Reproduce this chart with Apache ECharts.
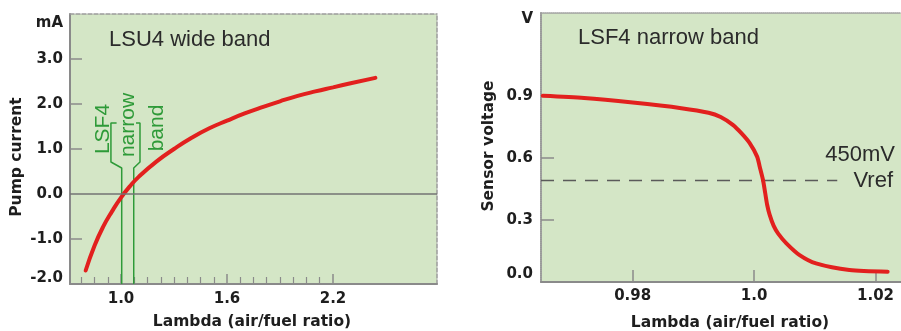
<!DOCTYPE html>
<html>
<head>
<meta charset="utf-8">
<script src="https://cdn.jsdelivr.net/npm/echarts@6/dist/echarts.min.js"></script>
<style>
  html, body { margin: 0; padding: 0; background: #fff; }
  #main { width: 901px; height: 331px; }
</style>
</head>
<body>
<div id="main"></div>
<script>
// LSU4 wide band: pump current (mA) vs lambda
const lsuLambda = [0.80, 0.85, 0.90, 0.95, 1.00, 1.05, 1.10, 1.20, 1.30, 1.40, 1.50, 1.60, 1.70, 1.80, 1.90, 2.00, 2.10, 2.20, 2.30, 2.44];
const lsuCurrent = [-1.70, -1.15, -0.72, -0.38, -0.08, 0.17, 0.38, 0.72, 1.00, 1.25, 1.46, 1.63, 1.79, 1.93, 2.06, 2.18, 2.28, 2.37, 2.46, 2.58];
const lsuXLabels = [1.0, 1.6, 2.2];
const lsuXMinorTicks = [0.775, 0.85, 0.925, 1.075, 1.15, 1.225, 1.3, 1.375, 1.45, 1.525, 1.675, 1.75, 1.825, 1.9, 1.975, 2.05, 2.125];
const lsuYLabels = [-2, -1, 0, 1, 2, 3];
const lsuYTicks = [-1, 1, 2, 3];

// narrow band window drawn on the wide band chart (bracket)
const bracketLeft = [[0.975, 1.578], [0.943, 1.578], [0.943, 0.711], [1.004, 0.578], [1.004, -2]];
const bracketRight = [[1.085, 1.578], [1.1075, 1.578], [1.1075, 0.711], [1.072, 0.578], [1.072, -2]];

// LSF4 narrow band: sensor voltage (V) vs lambda
const lsfLambda = [0.9652, 0.972, 0.980, 0.988, 0.9925, 0.9945, 0.9965, 0.9979, 0.9993, 1.0005, 1.00093, 1.00147, 1.00183, 1.00216, 1.00257, 1.00323, 1.00397, 1.00532, 1.0075, 1.0102, 1.0157, 1.022];
const lsfVoltage = [0.90, 0.889, 0.867, 0.840, 0.818, 0.797, 0.759, 0.719, 0.670, 0.606, 0.557, 0.493, 0.430, 0.372, 0.324, 0.271, 0.234, 0.187, 0.130, 0.090, 0.058, 0.050];
const lsfXLabels = [0.98, 1.0, 1.02];
const lsfXLabelText = ['0.98', '1.0', '1.02'];
const lsfYLabels = [0, 0.3, 0.6, 0.9];
const lsfYTicks = [0.3, 0.6, 0.9];
const vrefLine = [[0.9649, 0.49], [1.0137, 0.49]];

const BG = '#d4e6c6';
const AXIS = '#8a8a8a';
const RED = '#e2201e';
const GREEN = '#2e9a38';
const LABEL_FONT = 'DejaVu Sans';
const TITLE_FONT = 'Liberation Sans';

const zip = (xs, ys) => xs.map((x, i) => [x, ys[i]]);

const tickLabel = {
  color: '#1e1e1e',
  fontFamily: LABEL_FONT,
  fontWeight: 'bold',
  fontSize: 15,
};

let chart = echarts.init(document.getElementById('main'));

chart.setOption({
  animation: false,
  grid: [
    { left: 70, top: 14, width: 367, height: 270, show: true, backgroundColor: BG, borderWidth: 0 },
    { left: 541, top: 13, width: 360, height: 269, show: true, backgroundColor: BG, borderWidth: 0 },
  ],
  xAxis: [
    // wide band, main
    {
      type: 'value', gridIndex: 0, position: 'bottom', min: 0.7113, max: 2.7887,
      axisLine: { onZero: false, lineStyle: { color: AXIS, width: 2 } },
      axisTick: { inside: true, length: 10, customValues: lsuXLabels, lineStyle: { color: AXIS, width: 1.5 } },
      axisLabel: { ...tickLabel, margin: 8, customValues: lsuXLabels, formatter: (v) => v.toFixed(1) },
      splitLine: { show: false },
    },
    // wide band, minor ticks
    {
      type: 'value', gridIndex: 0, position: 'bottom', min: 0.7113, max: 2.7887,
      axisLine: { show: false, onZero: false },
      axisTick: { inside: true, length: 7, customValues: lsuXMinorTicks, lineStyle: { color: AXIS, width: 1.2 } },
      axisLabel: { show: false },
      splitLine: { show: false },
    },
    // wide band, top border
    {
      type: 'value', gridIndex: 0, position: 'top', min: 0.7113, max: 2.7887,
      axisLine: { onZero: false, lineStyle: { color: '#9a9a9a', width: 1.5, type: [4, 2] } },
      axisTick: { show: false }, axisLabel: { show: false }, splitLine: { show: false },
    },
    // narrow band, main
    {
      type: 'value', gridIndex: 1, position: 'bottom', min: 0.9649, max: 1.0242,
      axisLine: { onZero: false, lineStyle: { color: AXIS, width: 2 } },
      axisTick: { inside: true, length: 12, customValues: lsfXLabels, lineStyle: { color: AXIS, width: 1.5 } },
      axisLabel: {
        ...tickLabel, margin: 7, customValues: lsfXLabels,
        formatter: (v) => {
          let idx = 0;
          lsfXLabels.forEach((x, i) => { if (Math.abs(x - v) < Math.abs(lsfXLabels[idx] - v)) idx = i; });
          return lsfXLabelText[idx];
        },
      },
      splitLine: { show: false },
    },
    // narrow band, top border
    {
      type: 'value', gridIndex: 1, position: 'top', min: 0.9649, max: 1.0242,
      axisLine: { onZero: false, lineStyle: { color: '#a0a0a0', width: 1.5, type: [1, 1] } },
      axisTick: { show: false }, axisLabel: { show: false }, splitLine: { show: false },
    },
  ],
  yAxis: [
    {
      type: 'value', gridIndex: 0, position: 'left', min: -2, max: 4,
      axisLine: { onZero: false, lineStyle: { color: AXIS, width: 2 } },
      axisTick: { inside: true, length: 12, customValues: lsuYTicks, lineStyle: { color: AXIS, width: 1.5 } },
      axisLabel: {
        ...tickLabel, margin: 7, customValues: lsuYLabels,
        formatter: (v) => (v === -2 ? '{low|-2.0}' : v.toFixed(1)),
        rich: { low: { ...tickLabel, padding: [0, 0, 12, 0] } },
      },
      splitLine: { show: false },
    },
    // wide band, right border
    {
      type: 'value', gridIndex: 0, position: 'right', min: -2, max: 4,
      axisLine: { onZero: false, lineStyle: { color: '#9a9a9a', width: 1.5, type: [4, 2] } },
      axisTick: { show: false }, axisLabel: { show: false }, splitLine: { show: false },
    },
    {
      type: 'value', gridIndex: 1, position: 'left', min: 0, max: 1.3,
      axisLine: { onZero: false, lineStyle: { color: '#9a9a9a', width: 2, type: [1, 1] } },
      axisTick: { inside: true, length: 13, customValues: lsfYTicks, lineStyle: { color: AXIS, width: 1.5 } },
      axisLabel: {
        ...tickLabel, margin: 8, customValues: lsfYLabels,
        formatter: (v) => (v === 0 ? '{low|0.0}' : v.toFixed(1)),
        rich: { low: { ...tickLabel, padding: [0, 0, 16, 0] } },
      },
      splitLine: { show: false },
    },
  ],
  series: [
    // zero line of the wide band chart
    {
      type: 'line', xAxisIndex: 0, yAxisIndex: 0, data: [], z: 1,
      markLine: {
        silent: true, symbol: 'none', label: { show: false },
        lineStyle: { color: '#737373', width: 1.5, type: 'solid' },
        data: [{ yAxis: 0 }],
      },
    },
    {
      name: 'bracketLeft', type: 'line', xAxisIndex: 0, yAxisIndex: 0, z: 2,
      data: bracketLeft, showSymbol: false, silent: true,
      lineStyle: { color: GREEN, width: 1.5 },
    },
    {
      name: 'bracketRight', type: 'line', xAxisIndex: 0, yAxisIndex: 0, z: 2,
      data: bracketRight, showSymbol: false, silent: true,
      lineStyle: { color: GREEN, width: 1.5 },
    },
    {
      name: 'Pump current', type: 'line', xAxisIndex: 0, yAxisIndex: 0, z: 3,
      data: zip(lsuLambda, lsuCurrent), smooth: true, showSymbol: false,
      lineStyle: { color: RED, width: 4, cap: 'round' },
    },
    {
      name: 'Vref', type: 'line', xAxisIndex: 3, yAxisIndex: 2, z: 2,
      data: vrefLine, showSymbol: false, silent: true,
      lineStyle: { color: '#5a5a5a', width: 1.5, type: [13, 9] },
    },
    {
      name: 'Sensor voltage', type: 'line', xAxisIndex: 3, yAxisIndex: 2, z: 3,
      data: zip(lsfLambda, lsfVoltage), smooth: 0.25, showSymbol: false,
      lineStyle: { color: RED, width: 4, cap: 'round', join: 'round' },
    },
  ],
  graphic: [
    // units and axis names
    { type: 'text', x: 63, y: 23, style: { text: 'mA', font: `bold 15px "${LABEL_FONT}"`, fill: '#1e1e1e', align: 'right', verticalAlign: 'middle' } },
    { type: 'text', x: 533, y: 19, style: { text: 'V', font: `bold 15px "${LABEL_FONT}"`, fill: '#1e1e1e', align: 'right', verticalAlign: 'middle' } },
    { type: 'text', x: 17, y: 157, rotation: Math.PI / 2, style: { text: 'Pump current', font: `bold 15.5px "${LABEL_FONT}"`, fill: '#1e1e1e', align: 'center', verticalAlign: 'middle' } },
    { type: 'text', x: 489, y: 146, rotation: Math.PI / 2, style: { text: 'Sensor voltage', font: `bold 15.5px "${LABEL_FONT}"`, fill: '#1e1e1e', align: 'center', verticalAlign: 'middle' } },
    { type: 'text', x: 252, y: 322, style: { text: 'Lambda (air/fuel ratio)', font: `bold 15.5px "${LABEL_FONT}"`, fill: '#1e1e1e', align: 'center', verticalAlign: 'middle' } },
    { type: 'text', x: 730, y: 323, style: { text: 'Lambda (air/fuel ratio)', font: `bold 15.5px "${LABEL_FONT}"`, fill: '#1e1e1e', align: 'center', verticalAlign: 'middle' } },
    // titles
    { type: 'text', x: 109, y: 40, style: { text: 'LSU4 wide band', font: `22px "${TITLE_FONT}"`, fill: '#2b2b2b', align: 'left', verticalAlign: 'middle' } },
    { type: 'text', x: 578, y: 38, style: { text: 'LSF4 narrow band', font: `22px "${TITLE_FONT}"`, fill: '#2b2b2b', align: 'left', verticalAlign: 'middle' } },
    { type: 'text', x: 895, y: 155, style: { text: '450mV', font: `22px "${TITLE_FONT}"`, fill: '#2b2b2b', align: 'right', verticalAlign: 'middle' } },
    { type: 'text', x: 893, y: 181, style: { text: 'Vref', font: `22px "${TITLE_FONT}"`, fill: '#2b2b2b', align: 'right', verticalAlign: 'middle' } },
    // narrow band labels
    { type: 'text', x: 103, y: 129, rotation: Math.PI / 2, z: 10, style: { text: 'LSF4', font: `21px "${TITLE_FONT}"`, fill: GREEN, align: 'center', verticalAlign: 'middle' } },
    { type: 'text', x: 128, y: 125, rotation: Math.PI / 2, z: 10, style: { text: 'narrow', font: `21px "${TITLE_FONT}"`, fill: GREEN, align: 'center', verticalAlign: 'middle' } },
    { type: 'text', x: 157, y: 128, rotation: Math.PI / 2, z: 10, style: { text: 'band', font: `21px "${TITLE_FONT}"`, fill: GREEN, align: 'center', verticalAlign: 'middle' } },
  ],
});
</script>
</body>
</html>
